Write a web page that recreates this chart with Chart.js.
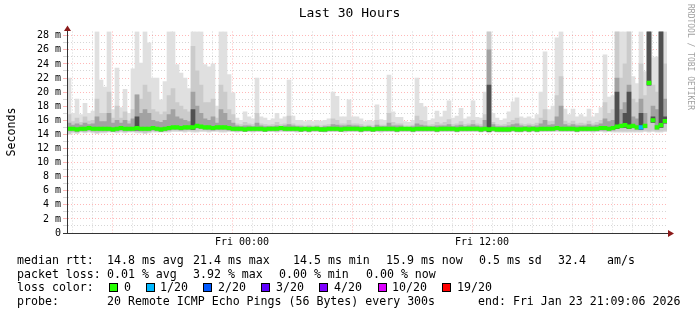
<!DOCTYPE html>
<html><head><meta charset="utf-8">
<script src="https://cdn.jsdelivr.net/npm/chart.js@4/dist/chart.umd.min.js"></script>
<style>
html,body{margin:0;padding:0;background:#fff;}
#wrap{position:relative;width:697px;height:315px;overflow:hidden;background:#fff;}
canvas{position:absolute;left:0;top:0;}
.t{position:absolute;font-family:"DejaVu Sans Mono",monospace;font-size:11.6px;line-height:14px;white-space:pre;color:#000;}
.box{position:absolute;width:7px;height:7px;border:1px solid #000;}
</style></head><body>
<div id="wrap"><canvas id="c" width="697" height="315"></canvas></div>
<script>
// ---- data (12-minute bins, from Thu 15:15 to Fri 21:15) ----
const startHour = 15.25;   // hours since Thu 00:00
const binHours = 0.2;
const smokeMax = [
22,17,19,16.8,18.4,17,17.3,28.6,21.7,20.7,
28.6,17.5,23.4,17.8,20.4,17,23.3,28.6,24.1,28.6,
27,22,22,18.9,21.5,28.6,28.6,23.9,22.7,22,
20.5,28.6,28.6,28.6,23.9,23.6,24,18,28.6,28.6,
22.5,19.9,16.3,16,17.2,16.5,16.2,22,16.5,16.3,
16,16.2,17,16.2,16.5,21.7,16.6,16,16,15.8,
16,15.8,16,15.9,16,16.2,20,19.4,16.5,16.5,
18.9,16.5,16.5,16.2,15.8,16,15.9,18.2,16.1,16,
22.4,17.2,16.4,16.4,15.8,15.7,16,22,18.4,17.9,
16,16.2,17.3,16.5,17.3,18.75,16.3,16.6,17.7,16.2,
16.5,18.75,16.4,16.3,20,28.6,17,16.3,16,16.2,
17.2,18.6,19.2,16.5,16.3,16.5,16.2,16.8,20,25.7,
17.5,18,27.7,28.6,17.6,16.8,17.6,16.5,16.8,16.5,
17.6,16.5,17,17.8,25.3,19.3,19.5,28.6,28.6,28.6,
28.6,22.2,21.2,28.6,22.9,28.6,24.9,25,28.6,28.6
];
const smokeMid = [
16.8,15.8,16.3,15.7,16.5,15.9,16,19,17,17,
20,16.3,18,16.3,17.2,15.9,17.5,19.6,19,21,
20,17.5,17.2,16.8,17.2,19.5,20.5,18.5,18,17.5,
17.2,26.5,23,21,18.5,18.5,19,16.3,21,20,
17.5,16.8,15.5,15.4,15.7,15.5,15.4,17,15.5,15.4,
15.3,15.4,15.7,15.4,15.5,16.6,15.5,15.3,15.3,15.2,
15.3,15.2,15.3,15.2,15.3,15.4,16.2,16,15.5,15.5,
16,15.5,15.5,15.4,15.2,15.3,15.2,16,15.3,15.3,
17,15.7,15.5,15.5,15.2,15.2,15.3,16.6,16,15.8,
15.3,15.4,15.7,15.5,15.7,16.1,15.4,15.5,15.8,15.4,
15.5,16,15.5,15.4,16.8,28.6,15.7,15.4,15.3,15.4,
15.7,16,16.3,15.5,15.4,15.5,15.4,15.6,16.3,17.5,
15.8,15.9,19.5,22.2,15.9,15.6,15.9,15.5,15.6,15.5,
15.9,15.5,15.7,16,18.5,17,17.5,28.6,22,24,
28.6,19,18.5,24,19.5,28.6,21,20,28.6,24
];
const smokeDark = [
15.6,15.3,15.5,15.3,15.6,15.4,15.5,16.5,15.8,15.8,
17,15.6,16,15.6,16,15.5,16.2,19.6,17,17.5,
17,16,15.8,15.7,16,16.8,17.5,16.5,16.2,16,
15.8,20,18,17,16.2,16,16.5,15.6,17.5,17,
16,15.6,15.2,15.1,15.2,15.2,15.1,15.6,15.2,15.1,
15.1,15.1,15.2,15.1,15.2,15.4,15.2,15.1,15.1,15.0,
15.1,15.0,15.1,15.0,15.1,15.1,15.4,15.3,15.2,15.2,
15.3,15.2,15.2,15.1,15.0,15.1,15.0,15.3,15.1,15.1,
15.6,15.2,15.2,15.2,15.0,15.0,15.1,15.5,15.3,15.2,
15.1,15.1,15.2,15.2,15.2,15.4,15.1,15.2,15.3,15.1,
15.2,15.4,15.2,15.1,16,26,15.4,15.1,15.1,15.1,
15.2,15.4,15.5,15.2,15.1,15.2,15.1,15.2,15.5,16,
15.3,15.4,16.5,18,15.4,15.2,15.4,15.2,15.2,15.2,
15.4,15.2,15.3,15.5,16.2,15.8,16,22,17.5,18.5,
21,16.5,16.2,19,17,28.6,18,17.5,28.6,19
];
// darkest core of the smoke, only where the reference shows near-black columns
const smokeCore = [
null,null,null,null,null,null,null,null,null,null, null,null,null,null,null,null,null,16.5,null,null,
null,null,null,null,null,null,null,null,null,null, null,17.5,null,null,null,null,null,null,null,null,
null,null,null,null,null,null,null,null,null,null, null,null,null,null,null,null,null,null,null,null,
null,null,null,null,null,null,null,null,null,null, null,null,null,null,null,null,null,null,null,null,
null,null,null,null,null,null,null,null,null,null, null,null,null,null,null,null,null,null,null,null,
null,null,null,null,null,21,null,null,null,null, null,null,null,null,null,null,null,null,null,null,
null,null,null,null,null,null,null,null,null,null, null,null,null,null,null,null,null,20,null,17,
20,null,null,17,null,28.6,16.5,null,28.6,16.5
];
const smokeLow = [
14.0,14.2,14.1,14.3,14.2,14.3,14.2,14.1,14.2,14.2,
14.3,14.3,14.2,14.3,14.2,14.3,14.3,14.2,14.2,14.1,
14.2,14.3,14.3,14.3,14.3,14.3,14.4,14.4,14.4,14.3,
14.4,14.3,14.3,14.4,14.4,14.3,14.4,14.4,14.3,14.3,
14.4,14.4,14.3,14.4,14.4,14.4,14.3,14.4,14.4,14.4,
14.4,14.4,14.3,14.4,14.4,14.4,14.4,14.3,14.4,14.4,
14.3,14.4,14.4,14.4,14.3,14.4,14.4,14.4,14.4,14.3,
14.4,14.4,14.4,14.3,14.4,14.4,14.4,14.4,14.3,14.4,
14.4,14.4,14.3,14.4,14.4,14.4,14.3,14.4,14.4,14.4,
14.4,14.4,14.3,14.4,14.4,14.4,14.4,14.3,14.4,14.4,
14.4,14.4,14.4,14.3,14.4,14.2,14.4,14.3,14.3,14.3,
14.3,14.4,14.3,14.3,14.4,14.3,14.4,14.3,14.4,14.4,
14.4,14.4,14.4,14.4,14.4,14.4,14.4,14.3,14.4,14.4,
14.4,14.3,14.4,14.4,14.3,14.4,14.3,14.3,14.3,14.3,
14.3,14.3,14.3,14.3,14.4,14.3,14.4,14.3,14.3,14.4
];
const medianRtt = [
14.8,14.8,14.7,14.8,14.8,14.9,14.8,14.8,14.8,14.8,
14.8,14.7,14.8,14.9,14.8,14.8,14.8,14.9,14.8,14.8,
14.8,14.9,14.8,14.7,14.8,14.9,15,15,14.9,15,
15,15,15.2,15.1,15,15,14.9,15,15,15,
14.9,14.8,14.8,14.8,14.7,14.8,14.8,14.8,14.8,14.7,
14.8,14.8,14.8,14.9,14.8,14.8,14.8,14.8,14.7,14.8,
14.7,14.8,14.8,14.7,14.7,14.8,14.8,14.8,14.7,14.8,
14.8,14.8,14.8,14.7,14.8,14.8,14.7,14.8,14.8,14.8,
14.8,14.8,14.7,14.8,14.8,14.8,14.7,14.8,14.8,14.8,
14.8,14.8,14.7,14.8,14.8,14.8,14.8,14.7,14.8,14.8,
14.8,14.8,14.8,14.7,14.8,14.7,14.8,14.7,14.7,14.7,
14.7,14.8,14.7,14.7,14.8,14.7,14.8,14.7,14.8,14.8,
14.8,14.8,14.9,14.8,14.8,14.8,14.8,14.7,14.8,14.8,
14.8,14.8,14.8,14.9,14.9,14.8,14.9,15.1,15.2,15.3,
15.1,15.2,15,15,15.2,21.3,16,15,15.3,15.9
];
const lossLevel = [
0,0,0,0,0,0,0,0,0,0, 0,0,0,0,0,0,0,0,0,0, 0,0,0,0,0,0,0,0,0,0,
0,0,0,0,0,0,0,0,0,0, 0,0,0,0,0,0,0,0,0,0, 0,0,0,0,0,0,0,0,0,0,
0,0,0,0,0,0,0,0,0,0, 0,0,0,0,0,0,0,0,0,0, 0,0,0,0,0,0,0,0,0,0,
0,0,0,0,0,0,0,0,0,0, 0,0,0,0,0,0,0,0,0,0, 0,0,0,0,0,0,0,0,0,0,
0,0,0,0,0,0,0,0,0,0, 0,0,0,0,0,0,0,0,0,0, 0,0,0,1,0,0,0,0,0,0
];
const lossLabels = ['0','1/20','2/20','3/20','4/20','10/20','19/20'];
const lossColors = ['#26ff00','#00b8ff','#0059ff','#5e00ff','#7e00ff','#dd00ff','#ff0000'];
const hourTicks = [16,17,18,19,20,21,22,23,24,25,26,27,28,29,30,31,32,33,34,35,36,37,38,39,40,41,42,43,44,45];
const xTickLabels = {24:'Fri 00:00', 36:'Fri 12:00'};
const yTicks = [0,1,2,3,4,5,6,7,8,9,10,11,12,13,14,15,16,17,18,19,20,21,22,23,24,25,26,27,28];

const legendRows = [
  {top:253, items:[[17,'median rtt:'],[107,'14.8 ms avg'],[193,'21.4 ms max'],[293,'14.5 ms min'],[386,'15.9 ms now'],[479,'0.5 ms sd'],[558,'32.4'],[607,'am/s']]},
  {top:267, items:[[17,'packet loss:'],[107,'0.01 % avg'],[193,'3.92 % max'],[279,'0.00 % min'],[366,'0.00 % now']]},
  {top:280, items:[[17,'loss color:']]},
  {top:294, items:[[17,'probe:'],[107,'20 Remote ICMP Echo Pings (56 Bytes) every 300s'],[478,'end: Fri Jan 23 21:09:06 2026']]}
];
const lossBoxX = [109,146,203,261,319,378,442];
const lossTextX = [124,160,218,276,334,392,457];

// ---- chart ----
const binX = i => startHour + binHours * (i + 0.5);
const band = (hi, loFn) => hi.map((v, i) => ({x: binX(i), y: v === null ? null : [loFn(i), v]}));

const arrowPlugin = {
  id: 'arrows',
  afterDraw(chart) {
    const ctx = chart.ctx, a = chart.chartArea;
    ctx.save();
    ctx.strokeStyle = '#333'; ctx.lineWidth = 1;
    ctx.beginPath(); ctx.moveTo(63, a.bottom + 0.5); ctx.lineTo(669, a.bottom + 0.5); ctx.stroke();
    ctx.beginPath(); ctx.moveTo(a.left + 0.5, a.bottom); ctx.lineTo(a.left + 0.5, 29); ctx.stroke();
    ctx.fillStyle = '#8b1a1a';
    ctx.beginPath(); ctx.moveTo(668, a.bottom - 3); ctx.lineTo(674, a.bottom + 0.5); ctx.lineTo(668, a.bottom + 4); ctx.closePath(); ctx.fill();
    ctx.beginPath(); ctx.moveTo(a.left - 3, 31); ctx.lineTo(a.left + 0.5, 25.5); ctx.lineTo(a.left + 4, 31); ctx.closePath(); ctx.fill();
    ctx.restore();
  }
};

new Chart(document.getElementById('c'), {
  type: 'bar',
  data: {
    datasets: [
      {label: 'median rtt', data: band(medianRtt.map(m => m + 0.25), i => medianRtt[i] - 0.25),
       backgroundColor: lossLevel.map(l => lossColors[l])},
      {label: 'smoke core', data: band(smokeCore, i => medianRtt[i] - 0.3), backgroundColor: '#505050'},
      {label: 'smoke dark', data: band(smokeDark, i => medianRtt[i] - 0.3), backgroundColor: '#a2a2a2'},
      {label: 'smoke mid', data: band(smokeMid, i => smokeLow[i] + 0.15), backgroundColor: '#cbcbcb'},
      {label: 'smoke', data: band(smokeMax, i => smokeLow[i]), backgroundColor: '#e0e0e0'}
    ]
  },
  options: {
    responsive: false, animation: false, events: [],
    layout: {padding: {left: 0, top: 31.5, right: 30, bottom: 0}},
    datasets: {bar: {grouped: false, barPercentage: 1, categoryPercentage: 1, borderWidth: 0}},
    plugins: {legend: {display: false}, tooltip: {enabled: false}, title: {display: false}},
    scales: {
      x: {
        type: 'linear', min: startHour, max: startHour + 30, offset: false, z: 1,
        afterBuildTicks: s => { s.ticks = hourTicks.map(v => ({value: v})); },
        afterFit: s => { s.height = 82; },
        ticks: {autoSkip: false, maxRotation: 0, padding: 3, color: '#000',
          font: {family: 'DejaVu Sans Mono', size: 10},
          callback: v => xTickLabels[v] || ''},
        grid: {drawTicks: false, lineWidth: 1,
          color: c => (c.tick && c.tick.value % 6 === 0) ? 'rgba(255,0,0,0.28)' : 'rgba(120,120,120,0.3)'},
        border: {color: '#333', width: 1, dash: [1, 2]}
      },
      y: {
        min: 0, max: 28.6, z: 1,
        afterBuildTicks: s => { s.ticks = yTicks.map(v => ({value: v})); },
        afterFit: s => { s.width = 67; },
        ticks: {autoSkip: false, padding: 2, color: '#000',
          font: {family: 'DejaVu Sans Mono', size: 10},
          callback: v => v % 2 ? '' : (v === 0 ? '0' : v + ' m')},
        grid: {drawTicks: true, tickLength: 4, lineWidth: 1,
          color: c => (c.tick && c.tick.value % 2 === 0) ? 'rgba(255,0,0,0.28)' : 'rgba(120,120,120,0.3)'},
        border: {color: '#333', width: 1, dash: [1, 2]}
      }
    }
  },
  plugins: [arrowPlugin]
});

// ---- text ----
const wrap = document.getElementById('wrap');
function addText(x, y, s, extra) {
  const d = document.createElement('div');
  d.className = 't'; d.textContent = s;
  d.style.left = x + 'px'; d.style.top = y + 'px';
  if (extra) Object.assign(d.style, extra);
  wrap.appendChild(d); return d;
}
addText(0, 6, 'Last 30 Hours', {width: '697px', left: '0px', textAlign: 'center', fontSize: '13px', paddingLeft: '1px'});
addText(0, 0, 'Seconds', {left: '-14px', top: '125px', width: '50px', textAlign: 'center', transform: 'rotate(-90deg)'});
addText(685, 4, 'RRDTOOL / TOBI OETIKER', {fontSize: '8px', lineHeight: '10px', color: '#a0a0a0', writingMode: 'vertical-rl'});
legendRows.forEach(r => r.items.forEach(([x, s]) => addText(x, r.top, s)));
lossLabels.forEach((lab, i) => {
  const b = document.createElement('div');
  b.className = 'box'; b.style.left = lossBoxX[i] + 'px'; b.style.top = '283px';
  b.style.background = lossColors[i];
  wrap.appendChild(b);
  addText(lossTextX[i], 280, lab);
});
</script>
</body></html>
